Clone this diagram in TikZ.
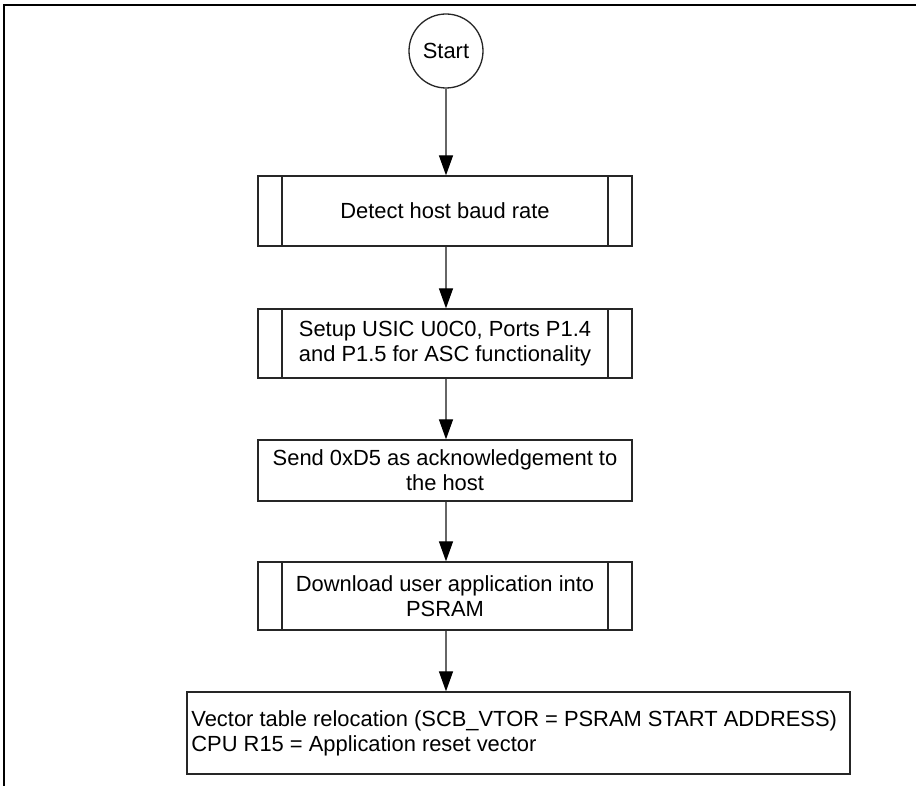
\documentclass[tikz,border=0pt]{standalone}
\usepackage{fontspec}
\setmainfont{Liberation Sans}
\usetikzlibrary{arrows.meta}
\tikzset{
  boxline/.style={draw=black!85, line width=0.65pt, fill=white},
  procbox/.style={boxline, rectangle, minimum width=187pt, align=center, inner sep=0pt},
  subbox/.style={procbox, path picture={
      \draw[black!85, line width=0.65pt]
        ([xshift=12pt]path picture bounding box.north west) -- ([xshift=12pt]path picture bounding box.south west)
        ([xshift=-12pt]path picture bounding box.north east) -- ([xshift=-12pt]path picture bounding box.south east);}},
  flow/.style={draw=black!60, line width=0.65pt, -{Triangle[length=10pt, width=7pt, color=black]}},
  every node/.style={font=\fontsize{10.95}{12.6}\selectfont}
}
\begin{document}
\begin{tikzpicture}[x=0.5pt, y=-0.5pt]
\useasboundingbox (0,0) rectangle (918,786);
% outer frame
\draw[black, line width=1pt] (4,786) -- (4,5) -- (916,5);

\node[circle, boxline, minimum size=37pt, inner sep=0pt] (start) at (446,51) {Start};
\node[subbox, minimum height=35pt] (b1) at (445,211) {Detect host baud rate};
\node[subbox, minimum height=34.5pt] (b2) at (445,343.5) {Setup USIC U0C0, Ports P1.4\\and P1.5 for ASC functionality};
\node[procbox, minimum height=30.5pt] (b3) at (445,470.5) {Send 0xD5 as acknowledgement to\\the host};
\node[subbox, minimum height=34pt] (b4) at (445,596) {Download user application into\\PSRAM};
\node[boxline, rectangle, minimum width=331.5pt, minimum height=41pt, inner sep=0pt] (b5) at (518.5,733) {};
\node[anchor=west, align=left, inner sep=0pt] (t5) at (191,733) {Vector table relocation (SCB\_VTOR = PSRAM START ADDRESS)\\CPU R15 = Application reset vector};

\draw[flow] (start.south) -- (start.south |- b1.north);
\draw[flow] (b1.south -| start) -- (start |- b2.north);
\draw[flow] (b2.south -| start) -- (start |- b3.north);
\draw[flow] (b3.south -| start) -- (start |- b4.north);
\draw[flow] (b4.south -| start) -- (start |- b5.north);
\end{tikzpicture}
\end{document}
